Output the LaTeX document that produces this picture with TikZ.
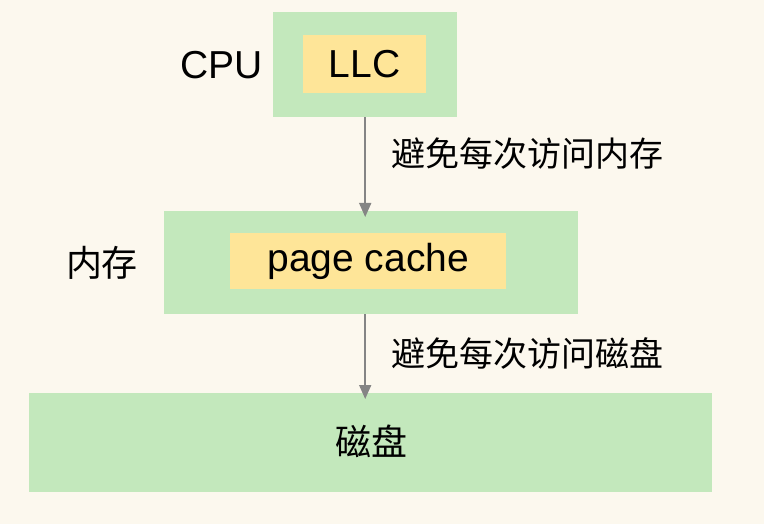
\documentclass[tikz,border=0pt]{standalone}
\usepackage{fontspec}
\setmainfont{Liberation Sans}
\newfontfamily\cjk{Noto Sans CJK SC}
\usepackage{tikz}
\usetikzlibrary{positioning, arrows.meta, calc}
\definecolor{bgcream}{HTML}{FCF8EE}
\definecolor{boxgreen}{HTML}{C3E8BC}
\definecolor{boxyellow}{HTML}{FEE598}
\definecolor{arrowgray}{HTML}{858585}
\tikzset{
  outerbox/.style={rectangle, fill=boxgreen, inner sep=0pt, anchor=north west},
  innerbox/.style={rectangle, fill=boxyellow, inner sep=0pt, anchor=north west},
  bigtext/.style={font=\fontsize{39}{42}\selectfont, inner sep=0pt},
  cjktext/.style={font=\cjk\fontsize{36}{39}\selectfont, inner sep=0pt},
  labeltext/.style={font=\cjk\fontsize{34}{37}\selectfont, inner sep=0pt, anchor=west},
  arrow/.style={draw=arrowgray, line width=1.6pt, -{Triangle[length=14pt,width=12pt]}, shorten >=-6pt}
}
\begin{document}
\begin{tikzpicture}[x=1pt, y=-1pt]
    \fill[bgcream] (0,0) rectangle (764,524);
    \useasboundingbox (0,0) rectangle (764,524);

    % Boxes
    \node (cpu) [outerbox, minimum width=184pt, minimum height=105pt] at (273,12) {};
    \node (llc) [innerbox, minimum width=123pt, minimum height=58pt] at (303,35) {};
    \node (mem) [outerbox, minimum width=414pt, minimum height=103pt] at (164,211) {};
    \node (pc) [innerbox, minimum width=276pt, minimum height=56pt] at (230,233) {};
    \node (disk) [outerbox, minimum width=683pt, minimum height=99pt] at (29,393) {};

    % Texts
    \node (llctext) [bigtext] at (llc.center) {LLC};
    \node (cputext) [bigtext, left=10pt of cpu.west] {CPU};
    \node (pctext) [bigtext] at (pc.center) {page cache};
    \node (memtext) [cjktext] at (102,263) {内存};
    \node (disktext) [cjktext] at (371,441) {磁盘};

    % Arrows
    \draw [arrow] (cpu.south) -- (cpu.south |- mem.north)
        node (lab1) [labeltext, midway, xshift=25pt, yshift=11pt] {避免每次访问内存};
    \draw [arrow] (cpu.south |- mem.south) -- (cpu.south |- disk.north)
        node (lab2) [labeltext, midway, xshift=25pt] {避免每次访问磁盘};
\end{tikzpicture}
\end{document}
